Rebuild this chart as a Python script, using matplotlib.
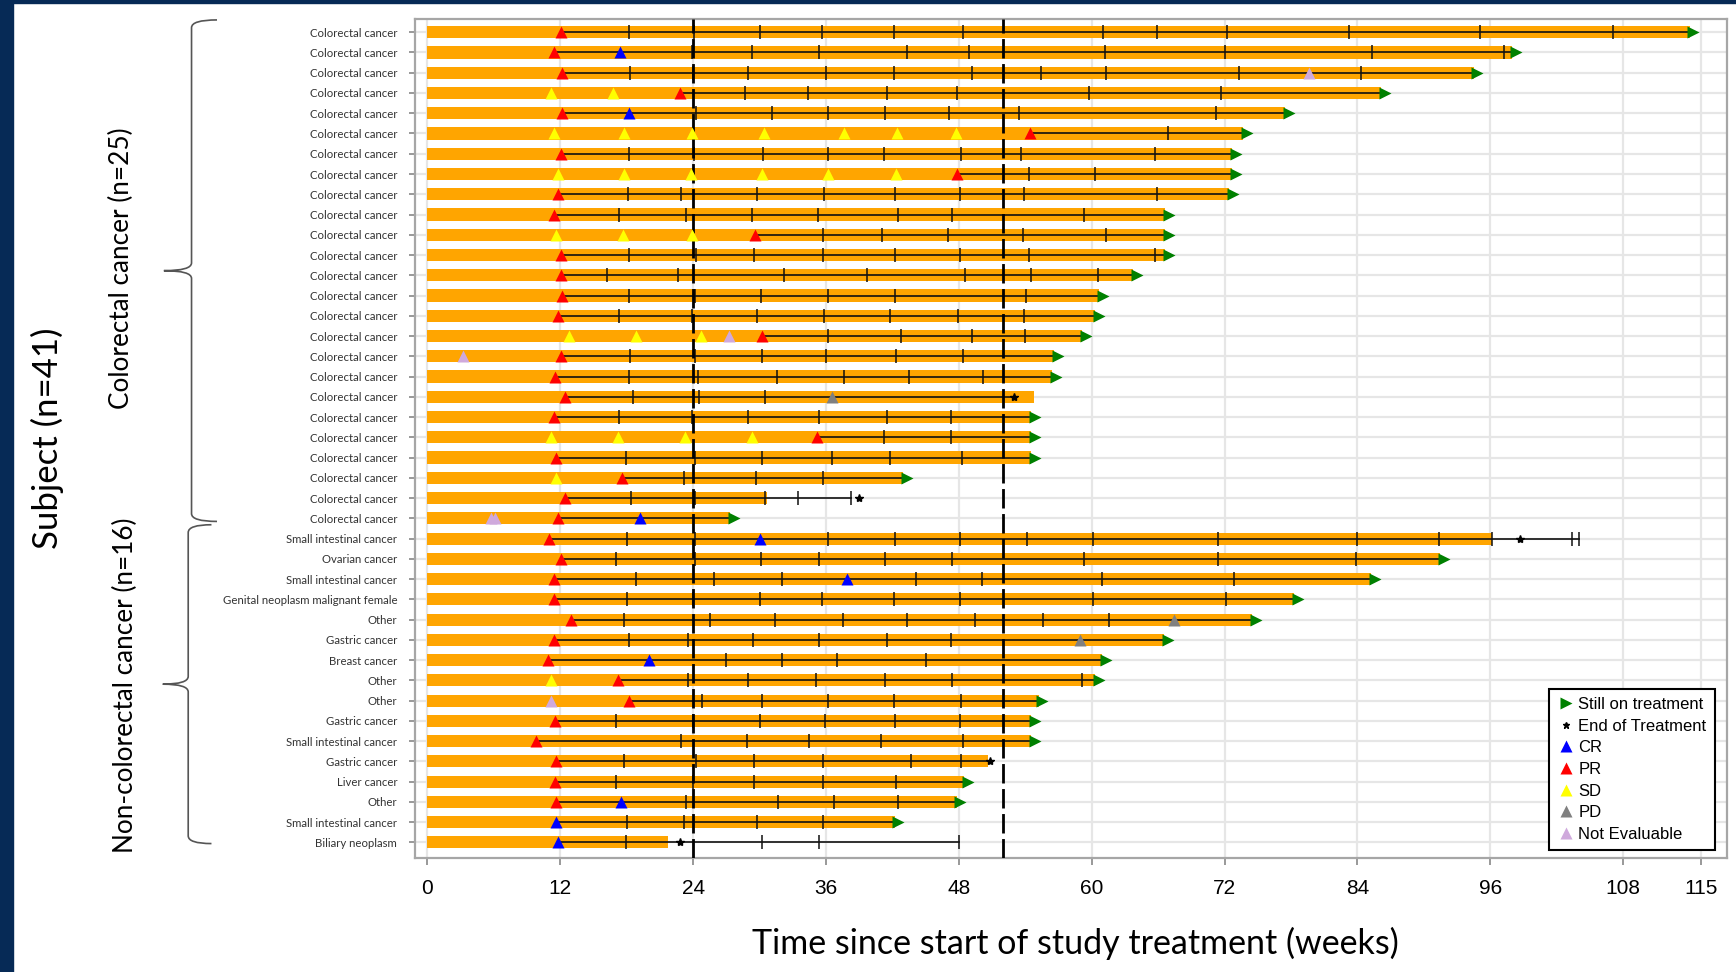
import matplotlib
matplotlib.use('Agg')
import matplotlib.pyplot as plt
from matplotlib.lines import Line2D
from matplotlib.path import Path
from matplotlib.patches import PathPatch, Rectangle

# subjects, top to bottom
labels = ['Colorectal cancer'] * 25 + [
    'Small intestinal cancer', 'Ovarian cancer', 'Small intestinal cancer',
    'Genital neoplasm malignant female', 'Other', 'Gastric cancer', 'Breast cancer',
    'Other', 'Other', 'Gastric cancer', 'Small intestinal cancer', 'Gastric cancer',
    'Liver cancer', 'Other', 'Small intestinal cancer', 'Biliary neoplasm']

# duration of treatment (weeks)
bar_end = [114.0, 98.0, 94.5, 86.1, 77.5, 73.7, 72.7, 72.7, 72.4, 66.6, 66.6, 66.6,
           63.7, 60.7, 60.3, 59.1, 56.6, 56.4, 54.8, 54.5, 54.5, 54.5, 43.0, 30.7, 27.3,
           96.2, 91.5, 85.2, 78.3, 74.5, 66.5, 60.9, 60.3, 55.2, 54.5, 54.5, 50.6, 48.5,
           47.8, 42.2, 21.7]

# end of response line (weeks)
line_end = list(bar_end)
line_end[18] = 53.0
line_end[23] = 38.3
line_end[25] = 104.0
line_end[40] = 48.0

# still on treatment flag and end of treatment time
on_treatment = [True] * 41
for i in (18, 23, 25, 36, 40):
    on_treatment[i] = False
eot_time = [None] * 41
eot_time[18] = 53.0
eot_time[23] = 39.0
eot_time[25] = 98.7
eot_time[36] = 50.8
eot_time[40] = 22.8

# tumour assessments (week, response)
responses = [
    [(12.1, 'PR')],
    [(11.4, 'PR'), (17.4, 'CR')],
    [(12.2, 'PR'), (79.6, 'NE')],
    [(11.2, 'SD'), (16.8, 'SD'), (22.8, 'PR')],
    [(12.2, 'PR'), (18.2, 'CR')],
    [(11.4, 'SD'), (17.8, 'SD'), (23.9, 'SD'), (30.4, 'SD'), (37.6, 'SD'), (42.4, 'SD'),
     (47.7, 'SD'), (54.4, 'PR')],
    [(12.1, 'PR')],
    [(11.8, 'SD'), (17.8, 'SD'), (23.8, 'SD'), (30.2, 'SD'), (36.2, 'SD'), (42.3, 'SD'),
     (47.8, 'PR')],
    [(11.8, 'PR')],
    [(11.4, 'PR')],
    [(11.6, 'SD'), (17.7, 'SD'), (23.9, 'SD'), (29.6, 'PR')],
    [(12.1, 'PR')],
    [(12.1, 'PR')],
    [(12.2, 'PR')],
    [(11.8, 'PR')],
    [(12.8, 'SD'), (18.8, 'SD'), (24.7, 'SD'), (27.2, 'NE'), (30.2, 'PR')],
    [(3.2, 'NE'), (12.1, 'PR')],
    [(11.5, 'PR')],
    [(12.4, 'PR'), (36.5, 'PD')],
    [(11.4, 'PR')],
    [(11.2, 'SD'), (17.2, 'SD'), (23.3, 'SD'), (29.3, 'SD'), (35.2, 'PR')],
    [(11.6, 'PR')],
    [(11.6, 'SD'), (17.6, 'PR')],
    [(12.4, 'PR')],
    [(5.7, 'NE'), (6.1, 'NE'), (11.8, 'PR'), (19.2, 'CR')],
    [(11.0, 'PR'), (30.0, 'CR')],
    [(12.1, 'PR')],
    [(11.4, 'PR'), (37.9, 'CR')],
    [(11.4, 'PR')],
    [(13.0, 'PR'), (67.4, 'PD')],
    [(11.4, 'PR'), (58.9, 'PD')],
    [(10.9, 'PR'), (20.0, 'CR')],
    [(11.2, 'SD'), (17.2, 'PR')],
    [(11.2, 'NE'), (18.2, 'PR')],
    [(11.5, 'PR')],
    [(9.8, 'PR')],
    [(11.6, 'PR')],
    [(11.5, 'PR')],
    [(11.6, 'PR'), (17.5, 'CR')],
    [(11.6, 'CR')],
    [(11.8, 'CR')],
]

# other visits shown as ticks on the response line
assess = [
    [18.2, 24.1, 30.0, 35.6, 42.1, 48.4, 61.0, 65.9, 72.2, 83.2, 95.1, 107.1],
    [23.9, 29.3, 35.4, 43.3, 48.9, 61.2, 72.0, 85.3, 97.2],
    [18.3, 24.0, 29.0, 36.0, 42.1, 49.2, 55.4, 61.3, 73.3, 84.3],
    [28.7, 34.4, 41.5, 47.8, 59.8, 71.7],
    [24.3, 31.1, 36.2, 41.3, 47.1, 53.4, 71.2],
    [66.9],
    [18.2, 24.1, 30.3, 36.2, 41.2, 48.2, 53.6, 65.7],
    [54.3, 60.3],
    [18.1, 22.9, 29.8, 35.8, 42.2, 48.1, 53.9, 65.9],
    [17.3, 23.4, 29.3, 35.3, 42.5, 47.4, 59.3],
    [35.7, 41.1, 47.0, 53.8, 61.3],
    [18.2, 24.3, 29.5, 35.7, 42.2, 48.1, 54.3, 65.7],
    [16.2, 22.6, 32.2, 39.7, 48.6, 54.5, 60.6],
    [18.2, 24.2, 30.1, 36.2, 42.2, 54.1],
    [17.3, 23.9, 29.8, 35.8, 41.8, 47.9, 53.9],
    [36.2, 42.8, 49.2, 54.0],
    [18.3, 24.2, 30.2, 36.0, 42.3, 48.4],
    [18.2, 24.4, 31.6, 37.6, 43.5, 50.2],
    [18.6, 24.5, 30.5],
    [17.3, 23.9, 29.0, 35.4, 41.5, 47.3],
    [41.2, 47.3],
    [17.9, 24.2, 30.2, 36.5, 41.8, 48.3],
    [23.2, 29.7, 35.7],
    [18.4, 24.2, 30.5, 33.5, 38.3],
    [],
    [18.0, 24.2, 36.2, 42.2, 48.1, 54.2, 60.1, 71.4, 84.0, 91.4, 96.2, 103.4, 104.0],
    [17.0, 24.2, 30.1, 35.4, 41.3, 47.4, 59.3, 71.4, 83.9],
    [18.8, 25.9, 32.0, 44.1, 50.1, 60.9, 72.9],
    [18.0, 24.0, 30.0, 35.6, 42.1, 48.1, 60.1, 72.1],
    [17.8, 25.5, 31.4, 37.5, 43.3, 49.5, 55.6, 61.6],
    [18.2, 23.5, 29.4, 35.4, 41.5, 47.3],
    [27.0, 32.0, 37.0, 45.0],
    [23.5, 29.0, 35.1, 41.3, 47.4, 59.1],
    [24.8, 30.2, 36.2, 42.1, 48.2],
    [17.0, 24.0, 30.0, 35.9, 42.2, 48.1],
    [22.9, 28.9, 34.5, 41.0, 48.4],
    [17.8, 24.3, 29.5, 35.7, 43.7, 48.2],
    [17.0, 24.0, 29.5, 35.7, 42.3],
    [23.4, 31.7, 36.7, 42.5],
    [18.0, 23.2, 29.8, 35.7],
    [17.9, 30.2, 35.4, 48.0],
]

xticks = [0, 12, 24, 36, 48, 60, 72, 84, 96, 108, 115]
ref_weeks = [24, 52]
resp_colors = {'CR': '#0000ff', 'PR': '#ff0000', 'SD': '#ffff00', 'PD': '#808080', 'NE': '#cfa9dc'}
resp_names = {'CR': 'CR', 'PR': 'PR', 'SD': 'SD', 'PD': 'PD', 'NE': 'Not Evaluable'}

narrow = ['Liberation Sans', 'DejaVu Sans']
soft = ['Lato', 'DejaVu Sans']

fig = plt.figure(figsize=(17.36, 9.72), dpi=100)
ax = fig.add_axes([0.2392, 0.1173, 0.7557, 0.8633])

n = len(labels)
ypos = list(range(n))

ax.barh(ypos, bar_end, height=0.6, color='#ffa500', zorder=2)
for i in range(n):
    starts = [t for t, c in responses[i] if c in ('PR', 'CR')]
    if starts:
        ax.plot([min(starts), line_end[i]], [i, i], color='#111111', lw=1.2, zorder=3)
    if assess[i]:
        ax.plot(assess[i], [i] * len(assess[i]), ls='none', marker='|', ms=10,
                mew=1.1, color='#111111', zorder=3)
    for t, c in responses[i]:
        ax.plot(t, i, marker='^', ms=9, color=resp_colors[c], mec='none', ls='none', zorder=4)
    if on_treatment[i]:
        ax.plot(bar_end[i] + 0.35, i, marker='>', ms=9, color='#008000', mec='none', zorder=5)
    if eot_time[i] is not None:
        ax.plot(eot_time[i], i, marker='*', ms=6, color='black', zorder=5)

for w in ref_weeks:
    ax.axvline(w, color='black', lw=2, ls=(0, (7, 2)), zorder=3)

ax.set_xlim(-1.1, 117.4)
ax.set_ylim(n - 1 + 0.77, -0.66)
ax.set_yticks(ypos)
ax.set_yticklabels(labels, family=soft, fontsize=8.2, color='#333333')
ax.set_xticks(xticks)
ax.set_xticklabels([str(v) for v in xticks], family=narrow, fontsize=15)
ax.tick_params(axis='y', length=4, width=1.2, color='#888888', pad=9)
ax.tick_params(axis='x', length=5, width=1.2, color='#888888', pad=10)
ax.grid(True, color='#e6e6e6', lw=1.6, zorder=0)
ax.set_axisbelow(True)
for s in ax.spines.values():
    s.set_color('#a6a6a6')
    s.set_linewidth(1.6)

handles = [Line2D([], [], ls='none', marker='>', ms=9, color='#008000', mec='none'),
           Line2D([], [], ls='none', marker='*', ms=5, color='black')]
names = ['Still on treatment', 'End of Treatment']
for c in ['CR', 'PR', 'SD', 'PD', 'NE']:
    handles.append(Line2D([], [], ls='none', marker='^', ms=8, color=resp_colors[c], mec='none'))
    names.append(resp_names[c])
leg = ax.legend(handles, names, loc='lower right', bbox_to_anchor=(0.9907, 0.0093),
                borderaxespad=0, fancybox=False, framealpha=1, edgecolor='black',
                prop={'family': narrow, 'size': 12}, labelspacing=0.4,
                handletextpad=0.25, handlelength=1.0, borderpad=0.5)
leg.get_frame().set_linewidth(1.5)

# overlay for the page decorations: navy edge, braces, group titles
ov = fig.add_axes([0, 0, 1, 1], zorder=-1)
ov.set_xlim(0, 1568)
ov.set_ylim(878, 0)
ov.axis('off')
ov.add_patch(Rectangle((0, 0), 12, 878, color='#062a56'))
ov.add_patch(Rectangle((0, 0), 1568, 3, color='#062a56'))


def brace(top, bottom, spine, tip, end, r=7):
    mid = (top + bottom) / 2
    verts = [(end, top), (spine, top), (spine, top + r),
             (spine, mid - r), (spine, mid), (tip, mid),
             (spine, mid), (spine, mid + r),
             (spine, bottom - r), (spine, bottom), (end, bottom)]
    codes = [Path.MOVETO, Path.CURVE3, Path.CURVE3,
             Path.LINETO, Path.CURVE3, Path.CURVE3,
             Path.CURVE3, Path.CURVE3,
             Path.LINETO, Path.CURVE3, Path.CURVE3]
    ov.add_patch(PathPatch(Path(verts, codes), fc='none', ec='#555555', lw=1.2))


brace(18, 471, 173, 148, 196)
brace(474, 762, 170, 147, 191)

fig.text(0.0275, 0.549, 'Subject (n=41)', rotation=90, ha='center', va='center',
         family=soft, fontsize=25)
fig.text(0.0702, 0.7238, 'Colorectal cancer (n=25)', rotation=90, ha='center', va='center',
         family=soft, fontsize=18.8)
fig.text(0.0720, 0.295, 'Non-colorectal cancer (n=16)', rotation=90, ha='center', va='center',
         family=soft, fontsize=18.8)
fig.text(0.6196, 0.0296, 'Time since start of study treatment (weeks)', ha='center', va='center',
         family=soft, fontsize=24.5)

fig.savefig('out.png', dpi=100)
